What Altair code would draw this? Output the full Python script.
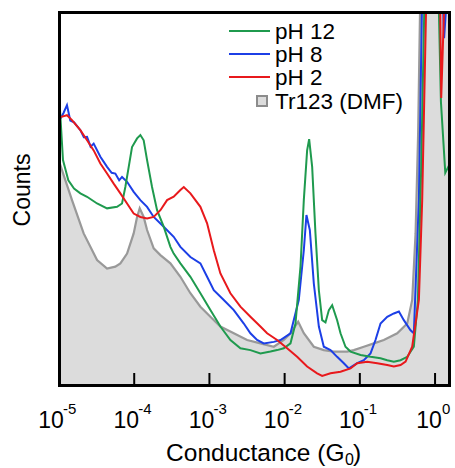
import altair as alt
import pandas as pd

FONT = "Liberation Sans"

# ---- data (log10 of conductance in G0, counts in arbitrary units 0-100) ----
gray_logG = [-5.0, -4.99, -4.827, -4.672, -4.494, -4.361, -4.251, -4.184, -4.095, -4.007, -3.962,
             -3.927, -3.874, -3.829, -3.741, -3.652, -3.519, -3.386, -3.253, -3.120, -2.987,
             -2.854, -2.676, -2.499, -2.322, -2.144, -2.011, -1.922, -1.820, -1.745, -1.612,
             -1.479, -1.346, -1.169, -1.080, -0.947, -0.814, -0.681, -0.503, -0.370, -0.304,
             -0.259, -0.225, -0.20, -0.10, 0.0, 0.21]
gray_counts = [60.5, 59.5, 49.7, 40.8, 33.7, 31.4, 31.9, 32.8, 35.4, 40.8, 45.2,
               47.5, 45.2, 41.7, 36.8, 35.0, 32.8, 29.2, 24.8, 21.2, 18.5,
               15.9, 14.1, 12.3, 11.4, 10.5, 12.3, 14.1, 17.2, 14.1, 10.5,
               9.6, 9.2, 9.2, 9.6, 10.5, 11.4, 12.3, 14.1, 16.7, 23.0,
               40.8, 67.5, 100.0, 180.0, 250.0, 180.0]

green_logG = [-5.0, -4.99, -4.947, -4.876, -4.80, -4.716, -4.627, -4.494, -4.361, -4.228, -4.162,
              -4.118, -4.073, -4.029, -3.962, -3.918, -3.874, -3.829, -3.763, -3.696, -3.608,
              -3.519, -3.475, -3.386, -3.253, -3.120, -2.987, -2.854, -2.721, -2.588, -2.455,
              -2.322, -2.188, -2.100, -2.011, -1.922, -1.856, -1.789, -1.745, -1.701, -1.674,
              -1.634, -1.590, -1.545, -1.501, -1.457, -1.412, -1.368, -1.302, -1.257, -1.191,
              -1.124, -0.991, -0.858, -0.725, -0.636, -0.548, -0.459, -0.370, -0.282, -0.228,
              -0.184, -0.144, -0.10, 0.0, 0.04, 0.078, 0.136, 0.21]
green_counts = [89.0, 75.0, 60.4, 55.0, 52.8, 51.5, 50.6, 48.8, 47.5, 47.9, 48.8,
                53.2, 58.6, 63.9, 66.2, 67.1, 65.7, 60.4, 53.2, 47.0, 42.6,
                37.2, 35.4, 32.8, 29.2, 24.8, 20.3, 15.9, 12.3, 10.1, 9.6,
                8.7, 9.2, 9.6, 10.1, 11.4, 16.7, 32.0, 49.7, 63.0, 66.0,
                58.6, 40.8, 25.6, 17.6, 17.0, 20.3, 21.6, 17.6, 14.1, 10.5,
                9.2, 8.3, 7.8, 7.4, 6.9, 6.5, 6.9, 7.8, 10.5, 23.0,
                58.6, 100.0, 200.0, 300.0, 110.0, 76.0, 57.0, 60.0]

blue_logG = [-4.98, -4.94, -4.894, -4.85, -4.80, -4.716, -4.67, -4.627, -4.58, -4.539, -4.450,
             -4.361, -4.30, -4.251, -4.20, -4.162, -4.095, -4.007, -3.918, -3.829, -3.741,
             -3.608, -3.475, -3.386, -3.253, -3.120, -3.031, -2.942, -2.809, -2.676, -2.543,
             -2.455, -2.366, -2.277, -2.144, -2.055, -1.922, -1.812, -1.745, -1.710, -1.665,
             -1.612, -1.545, -1.479, -1.390, -1.302, -1.213, -1.146, -1.035, -0.947, -0.858,
             -0.792, -0.725, -0.636, -0.548, -0.481, -0.415, -0.326, -0.282, -0.215, -0.175,
             -0.10, 0.0, 0.06, 0.12, 0.21]
blue_counts = [71.5, 73.0, 75.1, 71.0, 70.5, 68.4, 66.5, 66.6, 64.0, 64.8, 61.3,
               58.6, 57.0, 56.8, 55.0, 55.9, 54.6, 51.9, 49.7, 47.9, 45.2,
               42.6, 39.9, 37.2, 34.5, 32.8, 29.2, 25.6, 23.0, 20.3, 16.7,
               14.1, 12.3, 11.4, 11.8, 12.3, 14.1, 23.0, 36.3, 45.7, 41.7,
               27.4, 15.9, 10.5, 9.6, 7.8, 6.1, 4.7, 6.1, 6.9, 8.7,
               12.3, 16.7, 18.5, 19.4, 19.9, 17.6, 14.9, 14.1, 50.0, 100.0,
               250.0, 350.0, 130.0, 93.0, 120.0]

red_logG = [-4.982, -4.894, -4.827, -4.716, -4.627, -4.539, -4.450, -4.361, -4.273, -4.184, -4.095,
            -4.007, -3.918, -3.829, -3.741, -3.652, -3.563, -3.475, -3.386, -3.341, -3.253,
            -3.120, -3.031, -2.942, -2.854, -2.721, -2.588, -2.455, -2.322, -2.233, -2.100,
            -1.967, -1.834, -1.701, -1.568, -1.501, -1.390, -1.257, -1.124, -1.035, -0.902,
            -0.769, -0.636, -0.548, -0.459, -0.392, -0.304, -0.215, -0.171, -0.12, -0.05,
            0.0, 0.04, 0.082, 0.15]
red_counts = [71.9, 72.4, 71.1, 68.4, 65.7, 63.0, 59.5, 56.8, 54.1, 51.5, 48.8,
              46.1, 45.2, 44.8, 45.2, 47.0, 49.7, 50.6, 52.4, 53.2, 51.5,
              47.9, 43.5, 36.3, 30.1, 24.8, 21.2, 18.5, 15.9, 14.1, 12.3,
              10.1, 7.8, 5.2, 3.4, 2.7, 3.4, 3.8, 4.7, 6.1, 6.5,
              6.1, 5.6, 5.2, 5.6, 6.5, 10.5, 23.0, 49.7, 100.0, 250.0,
              350.0, 150.0, 77.0, 120.0]

series_names = ["pH 12", "pH 8", "pH 2"]
series_colors = ["#1f9a4e", "#1c3fe6", "#e8191c"]
gray_name = "Tr123 (DMF)"

tick_values = [1e-5, 1e-4, 1e-3, 1e-2, 1e-1, 1.0]
tick_exps = ["-5", "-4", "-3", "-2", "-1", "0"]


def make_df(name, logs, counts):
    return pd.DataFrame({"G": [10 ** v for v in logs], "counts": counts, "series": name})


W, H = 391, 374
x_scale = alt.Scale(type="log", domain=[1e-5, 1.58], nice=False)
y_scale = alt.Scale(domain=[0, 100], nice=False, zero=False)
X = alt.X("G:Q", scale=x_scale, axis=None)
Y = alt.Y("counts:Q", scale=y_scale, axis=None)

gray_df = make_df(gray_name, gray_logG, gray_counts)
gray_area = alt.Chart(gray_df).mark_area(color="#dcdcdc", clip=True).encode(
    x=X, y=Y, y2=alt.datum(0))
gray_line = alt.Chart(gray_df).mark_line(color="#999999", strokeWidth=2.2, clip=True).encode(x=X, y=Y)

layers = [gray_area, gray_line]
data_sets = {"pH 12": (green_logG, green_counts), "pH 8": (blue_logG, blue_counts),
             "pH 2": (red_logG, red_counts)}
for name in ["pH 8", "pH 12", "pH 2"]:
    col = series_colors[series_names.index(name)]
    logs, cnts = data_sets[name]
    layers.append(alt.Chart(make_df(name, logs, cnts)).mark_line(
        color=col, strokeWidth=2, clip=True).encode(x=X, y=Y))

one = pd.DataFrame({"a": [0]})

# inward ticks on the bottom axis
tick_df = pd.DataFrame({"G": tick_values, "exp": tick_exps})
ticks = alt.Chart(tick_df[tick_df["G"] > 1e-5]).mark_rule(color="black", strokeWidth=2).encode(
    x=alt.X("G:Q", scale=x_scale, axis=None), y=alt.value(H - 13), y2=alt.value(H))
layers.append(ticks)

neg = tick_df[tick_df["G"] < 1]
zero = tick_df[tick_df["G"] == 1]
for sub, d_ten, d_exp in [(neg, -8, 4), (zero, -6, 7)]:
    layers.append(alt.Chart(sub).mark_text(fontSize=23, font=FONT, align="center",
                                           baseline="alphabetic", dx=d_ten, color="black").encode(
        x=alt.X("G:Q", scale=x_scale, axis=None), y=alt.value(H + 42), text=alt.value("10")))
    layers.append(alt.Chart(sub).mark_text(fontSize=15, font=FONT, align="left",
                                           baseline="alphabetic", dx=d_exp, color="black").encode(
        x=alt.X("G:Q", scale=x_scale, axis=None), y=alt.value(H + 28), text="exp:N"))

# axis titles
layers.append(alt.Chart(one).mark_text(fontSize=24.5, font=FONT, align="right", baseline="alphabetic",
                                       color="black").encode(
    x=alt.value(285.5), y=alt.value(H + 75), text=alt.value("Conductance (G")))
layers.append(alt.Chart(one).mark_text(fontSize=16, font=FONT, align="left", baseline="alphabetic",
                                       color="black").encode(
    x=alt.value(286), y=alt.value(H + 79), text=alt.value("0")))
layers.append(alt.Chart(one).mark_text(fontSize=24.5, font=FONT, align="left", baseline="alphabetic",
                                       color="black").encode(
    x=alt.value(294), y=alt.value(H + 75), text=alt.value(")")))
layers.append(alt.Chart(one).mark_text(fontSize=23, font=FONT, align="center", baseline="middle",
                                       angle=270, color="black").encode(
    x=alt.value(-36), y=alt.value(178), text=alt.value("Counts")))

# legend
row_y = [19, 42, 65, 89]
for i, name in enumerate(series_names):
    layers.append(alt.Chart(one).mark_rule(color=series_colors[i], strokeWidth=2).encode(
        x=alt.value(170), x2=alt.value(211), y=alt.value(row_y[i])))
layers.append(alt.Chart(one).mark_rect(fill="#dcdcdc", stroke="#8c8c8c", strokeWidth=2).encode(
    x=alt.value(198), x2=alt.value(208), y=alt.value(row_y[3] - 5), y2=alt.value(row_y[3] + 5)))
for i, name in enumerate(series_names + [gray_name]):
    layers.append(alt.Chart(pd.DataFrame({"label": [name]})).mark_text(
        fontSize=22.5, font=FONT, align="left", baseline="middle", color="black").encode(
        x=alt.value(216), y=alt.value(row_y[i] + 1), text="label:N"))

# plot frame (four black rules), drawn last
frame_df = pd.DataFrame({"a": [1]})
layers.append(alt.Chart(frame_df).mark_rule(color="#000000", strokeWidth=2).encode(
    x=alt.value(1), x2=alt.value(W - 1), y=alt.value(1)))
layers.append(alt.Chart(frame_df).mark_rule(color="#000000", strokeWidth=2).encode(
    x=alt.value(1), x2=alt.value(W - 1), y=alt.value(H - 1)))
layers.append(alt.Chart(frame_df).mark_rule(color="#000000", strokeWidth=2).encode(
    x=alt.value(1), y=alt.value(0), y2=alt.value(H)))
layers.append(alt.Chart(frame_df).mark_rule(color="#000000", strokeWidth=2).encode(
    x=alt.value(W - 1), y=alt.value(0), y2=alt.value(H)))

chart = alt.layer(*layers).properties(
    width=W, height=H,
    autosize=alt.AutoSizeParams(type="none"),
    padding={"left": 59, "top": 12, "right": 5, "bottom": 82},
).configure(background="white").configure_view(stroke="black", strokeWidth=2)

chart.save("out.html", embed_options={"renderer": "svg", "actions": False})
